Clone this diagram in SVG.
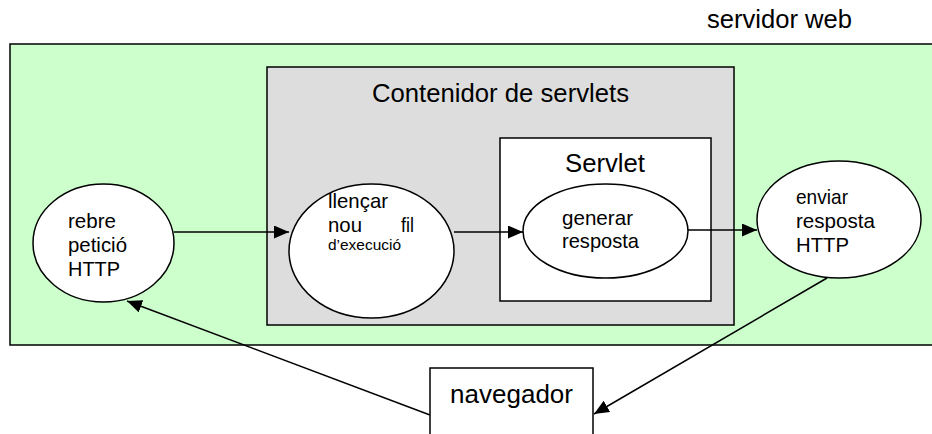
<svg xmlns="http://www.w3.org/2000/svg" width="932" height="434" viewBox="0 0 932 434">
  <style>
    .box { stroke: #000; stroke-width: 1.5; }
    .node { fill: #fff; stroke: #000; stroke-width: 1.5; }
    .lbl { font-family: "Liberation Sans", Arial, sans-serif; fill: #000; }
    .big { font-size: 25.7px; }
    .mid { font-size: 20.4px; }
    .small { font-size: 15.5px; }
    .edge { stroke: #000; stroke-width: 1.5; fill: none; marker-end: url(#arrow); }
  </style>
  <defs>
    <marker id="arrow" markerUnits="userSpaceOnUse" markerWidth="16" markerHeight="14" refX="15" refY="6.5" orient="auto">
      <path d="M0,0 L15,6.5 L0,13 z" fill="#000"/>
    </marker>
  </defs>

  <rect width="932" height="434" fill="#fff"/>

  <!-- web server area -->
  <g id="servidor-web">
    <rect class="box" x="10" y="44" width="940" height="301" fill="#ccffcc"/>
    <text class="lbl big" x="707" y="28" textLength="145" lengthAdjust="spacingAndGlyphs">servidor web</text>
  </g>

  <!-- servlet container -->
  <g id="contenidor">
    <rect class="box" x="267" y="67" width="467" height="258" fill="#dddddd"/>
    <text class="lbl big" x="372" y="102" textLength="257" lengthAdjust="spacingAndGlyphs">Contenidor de servlets</text>
  </g>

  <!-- servlet -->
  <g id="servlet">
    <rect class="box" x="500" y="138" width="211" height="163" fill="#fff"/>
    <text class="lbl big" x="565" y="172" textLength="80" lengthAdjust="spacingAndGlyphs">Servlet</text>
  </g>

  <g id="rebre">
    <ellipse class="node" cx="103.5" cy="243" rx="70.5" ry="59"/>
    <text class="lbl mid" x="68" y="228" textLength="48" lengthAdjust="spacingAndGlyphs">rebre</text>
    <text class="lbl mid" x="68" y="252" textLength="59" lengthAdjust="spacingAndGlyphs">petició</text>
    <text class="lbl mid" x="68" y="276" textLength="52" lengthAdjust="spacingAndGlyphs">HTTP</text>
  </g>

  <g id="llencar">
    <ellipse class="node" cx="371.5" cy="251" rx="82.5" ry="67"/>
    <text class="lbl mid" x="328" y="208" textLength="60" lengthAdjust="spacingAndGlyphs">llençar</text>
    <text class="lbl mid" x="328" y="232" textLength="34" lengthAdjust="spacingAndGlyphs">nou</text>
    <text class="lbl mid" x="401" y="232" textLength="13" lengthAdjust="spacingAndGlyphs">fil</text>
    <text class="lbl small" x="328" y="250" textLength="73" lengthAdjust="spacingAndGlyphs">d’execució</text>
  </g>

  <g id="generar">
    <ellipse class="node" cx="605.5" cy="231" rx="82.5" ry="47"/>
    <text class="lbl mid" x="562" y="225" textLength="71" lengthAdjust="spacingAndGlyphs">generar</text>
    <text class="lbl mid" x="562" y="248" textLength="77" lengthAdjust="spacingAndGlyphs">resposta</text>
  </g>

  <g id="enviar">
    <ellipse class="node" cx="839" cy="219.5" rx="82" ry="58.5"/>
    <text class="lbl mid" x="796" y="204" textLength="52" lengthAdjust="spacingAndGlyphs">enviar</text>
    <text class="lbl mid" x="796" y="228" textLength="79" lengthAdjust="spacingAndGlyphs">resposta</text>
    <text class="lbl mid" x="796" y="252" textLength="53" lengthAdjust="spacingAndGlyphs">HTTP</text>
  </g>

  <g id="navegador">
    <rect class="box" x="430" y="368" width="163" height="80" fill="#fff"/>
    <text class="lbl big" x="450" y="403" textLength="123" lengthAdjust="spacingAndGlyphs">navegador</text>
  </g>

  <!-- connectors -->
  <g id="connectors">
    <line class="edge" x1="174" y1="232" x2="289" y2="232"/>
    <line class="edge" x1="454" y1="232" x2="523" y2="232"/>
    <line class="edge" x1="688" y1="230" x2="757" y2="230"/>
    <line class="edge" x1="430" y1="415" x2="127" y2="301"/>
    <line class="edge" x1="827" y1="278" x2="594" y2="414"/>
  </g>
</svg>
